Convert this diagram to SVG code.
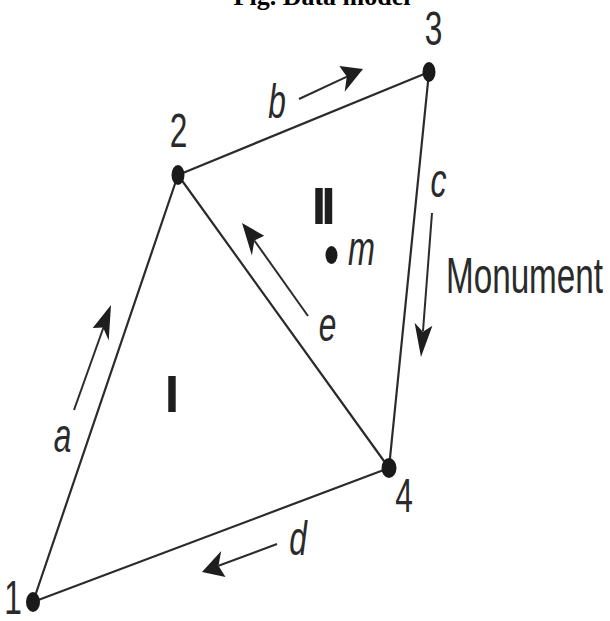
<svg xmlns="http://www.w3.org/2000/svg" width="610" height="621" viewBox="0 0 610 621">
<style>
.edge{stroke:#2b2b2b;stroke-width:2.2;fill:none;stroke-linecap:round}
.shaft{stroke:#2b2b2b;stroke-width:2;fill:none}
.head{fill:#1e1e1e;stroke:none}
.dot{fill:#1a1a1a}
.num{font-family:"Liberation Sans",Arial,sans-serif;font-size:48px;fill:#2a2a2a;text-anchor:middle}
.ital{font-family:"Liberation Sans",Arial,sans-serif;font-size:48px;font-style:italic;fill:#2a2a2a;text-anchor:middle}
.region{font-family:"Liberation Sans",Arial,sans-serif;font-size:52px;font-weight:bold;fill:#1e1e1e}
.plain{font-family:"Liberation Sans",Arial,sans-serif;font-size:50px;fill:#2a2a2a}
.title{font-family:"Liberation Serif","Times New Roman",serif;font-size:26px;font-weight:bold;fill:#000;text-anchor:middle}
</style>
<rect width="610" height="621" fill="#ffffff"/>
<text class="title" x="322" y="5">Fig. Data model</text>

<g id="connectors">
  <line class="edge" x1="33" y1="602" x2="178" y2="175"/>
  <line class="edge" x1="178" y1="175" x2="429" y2="72"/>
  <line class="edge" x1="429" y1="72" x2="389" y2="468"/>
  <line class="edge" x1="178" y1="175" x2="389" y2="468"/>
  <line class="edge" x1="33" y1="602" x2="389" y2="468"/>

  <g id="arrow-a">
    <line class="shaft" x1="74" y1="410" x2="104" y2="326"/>
    <polygon class="head" points="111,305 108.7,340.5 103.1,327.6 92.7,327.9"/>
    <text class="ital" x="62.5" y="452" textLength="17.6" lengthAdjust="spacingAndGlyphs">a</text>
  </g>
  <g id="arrow-b">
    <line class="shaft" x1="299" y1="99" x2="347" y2="76.6"/>
    <polygon class="head" points="363,69 344.7,91.7 346.8,76.6 339.3,66"/>
    <text class="ital" x="277" y="118" textLength="17.6" lengthAdjust="spacingAndGlyphs">b</text>
  </g>
  <g id="arrow-c">
    <line class="shaft" x1="432" y1="213" x2="423" y2="331"/>
    <polygon class="head" points="421,357 432.4,325.7 422.9,331.7 414.6,322.7"/>
    <text class="ital" x="438.5" y="197" textLength="16" lengthAdjust="spacingAndGlyphs">c</text>
  </g>
  <g id="arrow-d">
    <line class="shaft" x1="277" y1="544" x2="218.5" y2="565.8"/>
    <polygon class="head" points="202,572 225.5,577.1 218.5,565.8 221.2,550.9"/>
    <text class="ital" x="298" y="555" textLength="17.6" lengthAdjust="spacingAndGlyphs">d</text>
  </g>
  <g id="arrow-e">
    <line class="shaft" x1="308" y1="316" x2="254.4" y2="240.5"/>
    <polygon class="head" points="242,223 264.2,235.8 254.4,240.5 251.9,255.4"/>
    <text class="ital" x="327.5" y="341" textLength="17.6" lengthAdjust="spacingAndGlyphs">e</text>
  </g>
</g>

<g id="node-1">
  <ellipse class="dot" cx="33" cy="602" rx="7" ry="10"/>
  <text class="num" x="13" y="614" textLength="17.6" lengthAdjust="spacingAndGlyphs">1</text>
</g>
<g id="node-2">
  <ellipse class="dot" cx="178" cy="175" rx="6.5" ry="10"/>
  <text class="num" x="178.5" y="147" textLength="17.6" lengthAdjust="spacingAndGlyphs">2</text>
</g>
<g id="node-3">
  <ellipse class="dot" cx="429" cy="72" rx="6.5" ry="10"/>
  <text class="num" x="433.5" y="45" textLength="17.6" lengthAdjust="spacingAndGlyphs">3</text>
</g>
<g id="node-4">
  <ellipse class="dot" cx="389" cy="468" rx="7.5" ry="10"/>
  <text class="num" x="404" y="512" textLength="17.6" lengthAdjust="spacingAndGlyphs">4</text>
</g>
<g id="monument-m">
  <ellipse class="dot" cx="331.5" cy="255" rx="6" ry="9"/>
  <text class="ital" x="361.5" y="265" textLength="27" lengthAdjust="spacingAndGlyphs">m</text>
</g>

<g id="labels">
  <text class="region" x="164.7" y="412">I</text>
  <text class="region" x="311.7" y="224" letter-spacing="-5">II</text>
  <text class="plain" x="446" y="293" textLength="157" lengthAdjust="spacingAndGlyphs">Monument</text>
</g>
</svg>
